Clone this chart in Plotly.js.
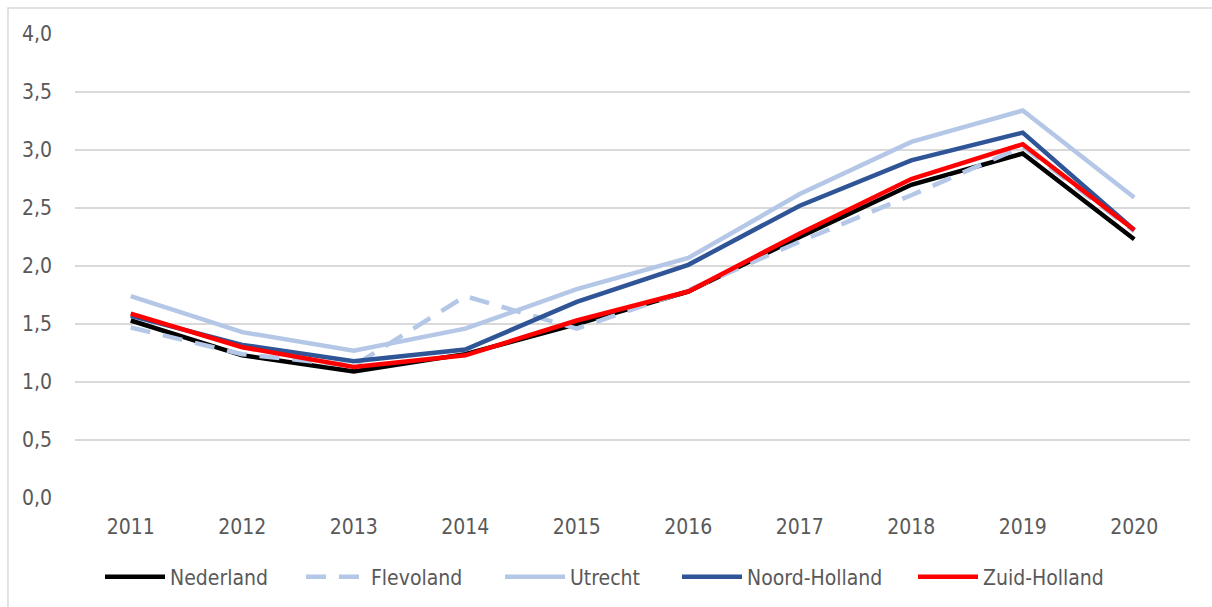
<!DOCTYPE html>
<html>
<head>
<meta charset="utf-8">
<script src="https://cdn.plot.ly/plotly-3.0.1.min.js"></script>
<style>html,body{margin:0;padding:0;background:#fff;}#chart{width:1212px;height:607px;}</style>
</head>
<body>
<div id="chart"></div>
<script>
const years = ['2011','2012','2013','2014','2015','2016','2017','2018','2019','2020'];
const nederland    = [1.53, 1.23, 1.09, 1.24, 1.50, 1.78, 2.25, 2.70, 2.97, 2.23];
const flevoland    = [1.47, 1.24, 1.14, 1.74, 1.46, 1.79, 2.21, 2.61, 3.03, 2.30];
const utrecht      = [1.74, 1.43, 1.27, 1.46, 1.80, 2.07, 2.62, 3.07, 3.34, 2.59];
const noordHolland = [1.57, 1.32, 1.18, 1.28, 1.69, 2.01, 2.52, 2.91, 3.15, 2.31];
const zuidHolland  = [1.59, 1.30, 1.13, 1.23, 1.53, 1.78, 2.28, 2.75, 3.05, 2.31];
const seriesNames = ['Nederland','Flevoland','Utrecht','Noord-Holland','Zuid-Holland'];
const yTicks = [0,0.5,1,1.5,2,2.5,3,3.5,4];

const FONT = '"Liberation Sans Narrow", "DejaVu Sans Condensed", "Arial Narrow", sans-serif';
const styles = [
  {color:'#000000', width:4.5, dash:'solid'},
  {color:'#b4c7e7', width:4.5, dash:'20px,13px'},
  {color:'#b4c7e7', width:4.5, dash:'solid'},
  {color:'#2f5597', width:4.5, dash:'solid'},
  {color:'#ff0000', width:4.5, dash:'solid'}
];
const legendLeft = [100, 301, 500, 677, 913];
const legendIds = ['legend','legend2','legend3','legend4','legend5'];
const data = [nederland, flevoland, utrecht, noordHolland, zuidHolland];
const traces = data.map((vals, i) => ({
  type:'scatter', mode:'lines', x: years, y: vals, name: seriesNames[i],
  legend: legendIds[i],
  line: {color: styles[i].color, width: styles[i].width, dash: styles[i].dash}
}));

const layout = {
  width:1212, height:607,
  margin:{l:75, r:22, t:34, b:109},
  paper_bgcolor:'#ffffff', plot_bgcolor:'#ffffff',
  separators: ',.',
  font:{family:FONT, size:21, color:'#595959'},
  showlegend:true,
  xaxis:{type:'category', range:[-0.5, 9.5], showgrid:false, zeroline:false, showline:false, ticks:'',
         tickfont:{family:FONT, size:21, color:'#595959'}, ticklabelstandoff:14, fixedrange:true},
  yaxis:{range:[0,4], tickvals:yTicks, tickformat:'.1f', showgrid:true, gridcolor:'#d9d9d9', gridwidth:1.5,
         zeroline:false, showline:false, ticks:'', ticklabelstandoff:22,
         tickfont:{family:FONT, size:21, color:'#595959'}, fixedrange:true},
  shapes:[{type:'rect', xref:'paper', yref:'paper', x0:-0.0601, x1:1.2, y0:-0.5, y1:1.056,
           line:{color:'#d9d9d9', width:1.5}, fillcolor:'rgba(0,0,0,0)', layer:'below'}]
};
legendIds.forEach((id, i) => {
  layout[id] = {orientation:'h', xref:'container', yref:'container',
    x: legendLeft[i] / 1212, xanchor:'left', y: 30 / 607, yanchor:'middle',
    font:{family:FONT, size:21, color:'#595959'}, itemwidth:60, bgcolor:'rgba(0,0,0,0)'};
});
Plotly.newPlot('chart', traces, layout, {displayModeBar:false, staticPlot:true});
</script>
</body>
</html>
